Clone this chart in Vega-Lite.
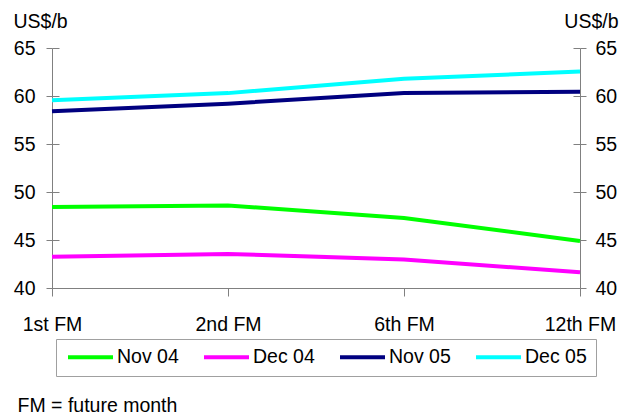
{
  "$schema": "https://vega.github.io/schema/vega-lite/v6.json",
  "width": 528,
  "height": 240,
  "autosize": {"type": "none"},
  "padding": {"left": 52, "top": 48, "right": 49, "bottom": 128},
  "background": "white",
  "config": {
    "view": {"stroke": null},
    "font": "Liberation Sans",
    "axis": {
      "labelFont": "Liberation Sans",
      "labelFontSize": 19.5,
      "labelColor": "#000000",
      "titleFont": "Liberation Sans",
      "titleFontSize": 19.5,
      "titleFontWeight": "normal",
      "titleColor": "#000000",
      "domainColor": "#808080",
      "tickColor": "#808080",
      "grid": false
    }
  },
  "data": {
    "values": [
      {"fm": "1st FM", "series": "Nov 04", "price": 48.44},
      {"fm": "2nd FM", "series": "Nov 04", "price": 48.6},
      {"fm": "6th FM", "series": "Nov 04", "price": 47.3},
      {"fm": "12th FM", "series": "Nov 04", "price": 44.9},
      {"fm": "1st FM", "series": "Dec 04", "price": 43.25},
      {"fm": "2nd FM", "series": "Dec 04", "price": 43.55},
      {"fm": "6th FM", "series": "Dec 04", "price": 42.98},
      {"fm": "12th FM", "series": "Dec 04", "price": 41.63},
      {"fm": "1st FM", "series": "Nov 05", "price": 58.4},
      {"fm": "2nd FM", "series": "Nov 05", "price": 59.2},
      {"fm": "6th FM", "series": "Nov 05", "price": 60.3},
      {"fm": "12th FM", "series": "Nov 05", "price": 60.45},
      {"fm": "1st FM", "series": "Dec 05", "price": 59.55},
      {"fm": "2nd FM", "series": "Dec 05", "price": 60.3},
      {"fm": "6th FM", "series": "Dec 05", "price": 61.8},
      {"fm": "12th FM", "series": "Dec 05", "price": 62.55}
    ]
  },
  "layer": [
    {
      "mark": {"type": "line", "strokeWidth": 4},
      "encoding": {
        "x": {
          "field": "fm",
          "type": "ordinal",
          "sort": ["1st FM", "2nd FM", "6th FM", "12th FM"],
          "scale": {"type": "point", "padding": 0},
          "axis": {
            "labelAngle": 0,
            "tickSize": 8,
            "labelPadding": 19,
            "title": "FM = future month",
            "titleX": -35,
            "titleY": 123,
            "titleAlign": "left",
            "titleBaseline": "alphabetic",
            "titleAngle": 0
          }
        },
        "y": {
          "field": "price",
          "type": "quantitative",
          "scale": {"domain": [40, 65], "nice": false, "zero": false},
          "axis": {
            "orient": "left",
            "values": [40, 45, 50, 55, 60, 65],
            "tickSize": 6,
            "labelPadding": 11,
            "title": "US$/b",
            "titleAngle": 0,
            "titleX": -39,
            "titleY": -21,
            "titleAlign": "left",
            "titleBaseline": "alphabetic"
          }
        },
        "color": {
          "field": "series",
          "type": "nominal",
          "scale": {
            "domain": ["Nov 04", "Dec 04", "Nov 05", "Dec 05"],
            "range": ["#00ff00", "#ff00ff", "#000080", "#00ffff"]
          },
          "legend": {
            "orient": "none",
            "legendX": 4,
            "legendY": 291,
            "direction": "horizontal",
            "columns": 4,
            "title": null,
            "symbolType": "stroke",
            "symbolSize": 2025,
            "symbolStrokeWidth": 4,
            "clipHeight": 18,
            "labelFont": "Liberation Sans",
            "labelFontSize": 19.5,
            "labelColor": "#000000",
            "labelOffset": 2,
            "symbolOffset": 1,
            "columnPadding": 22,
            "padding": 9,
            "strokeColor": "#a0a0a0",
            "fillColor": "#ffffff",
            "labelLimit": 0
          }
        }
      }
    },
    {
      "mark": {"type": "line", "opacity": 0},
      "encoding": {
        "detail": {"field": "series", "type": "nominal"},
        "x": {"field": "fm", "type": "ordinal", "sort": ["1st FM", "2nd FM", "6th FM", "12th FM"], "axis": null},
        "y": {
          "field": "price",
          "type": "quantitative",
          "axis": {
            "orient": "right",
            "values": [40, 45, 50, 55, 60, 65],
            "tickSize": 6,
            "labelPadding": 9,
            "title": "US$/b",
            "titleAngle": 0,
            "titleX": 38,
            "titleY": -21,
            "titleAlign": "right",
            "titleBaseline": "alphabetic"
          }
        }
      }
    },
    {
      "mark": {"type": "line", "opacity": 0},
      "encoding": {
        "detail": {"field": "series", "type": "nominal"},
        "x": {"field": "fm", "type": "ordinal", "sort": ["1st FM", "2nd FM", "6th FM", "12th FM"], "axis": null},
        "y": {
          "field": "price",
          "type": "quantitative",
          "axis": {"orient": "left", "values": [40, 45, 50, 55, 60, 65], "offset": -7, "tickSize": 7, "labels": false, "domain": false, "title": null}
        }
      }
    },
    {
      "mark": {"type": "line", "opacity": 0},
      "encoding": {
        "detail": {"field": "series", "type": "nominal"},
        "x": {"field": "fm", "type": "ordinal", "sort": ["1st FM", "2nd FM", "6th FM", "12th FM"], "axis": null},
        "y": {
          "field": "price",
          "type": "quantitative",
          "axis": {"orient": "right", "values": [40, 45, 50, 55, 60, 65], "offset": -7, "tickSize": 7, "labels": false, "domain": false, "title": null}
        }
      }
    }
  ],
  "resolve": {"axis": {"x": "independent", "y": "independent"}}
}
